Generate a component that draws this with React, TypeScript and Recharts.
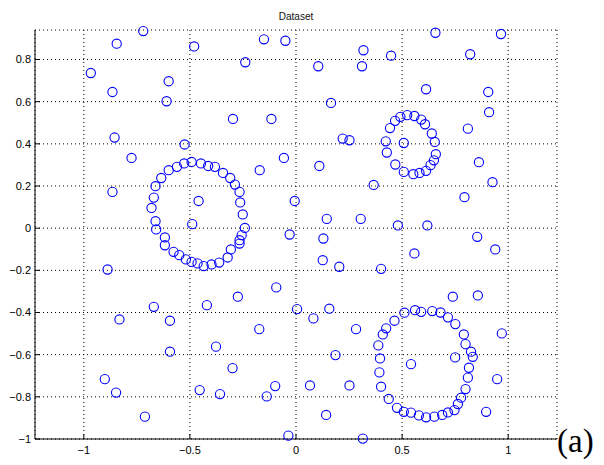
import {
  CartesianGrid,
  Scatter,
  ScatterChart,
  XAxis,
  YAxis,
} from 'recharts';

// scattered background points [x, y]
const noisePoints: [number, number][] = [
  [-0.72, 0.935], [-0.845, 0.875], [-0.48, 0.862], [-0.967, 0.736], [-0.6, 0.697],
  [-0.865, 0.646], [-0.61, 0.602], [-0.297, 0.518], [-0.116, 0.518], [-0.855, 0.43],
  [-0.525, 0.397], [-0.775, 0.333], [-0.057, 0.333], [-0.171, 0.275], [-0.865, 0.172],
  [-0.459, 0.129], [-0.006, 0.129], [-0.489, 0.019], [-0.03, -0.03], [-0.151, 0.896],
  [-0.05, 0.889], [-0.239, 0.787],
  [-0.888, -0.196], [-0.093, -0.281], [-0.274, -0.325], [-0.67, -0.373], [-0.42, -0.365],
  [0.005, -0.384], [-0.832, -0.433], [-0.594, -0.439], [-0.173, -0.479], [-0.377, -0.562],
  [-0.594, -0.586], [-0.299, -0.664], [-0.901, -0.716], [-0.848, -0.78], [-0.454, -0.768],
  [-0.358, -0.787], [-0.098, -0.749], [-0.138, -0.798], [-0.712, -0.894], [-0.036, -0.984],
  [0.657, 0.927], [0.966, 0.921], [0.318, 0.844], [0.448, 0.818], [0.821, 0.825],
  [0.105, 0.768], [0.311, 0.768], [0.613, 0.659], [0.906, 0.646], [0.165, 0.594],
  [0.91, 0.55], [0.81, 0.472], [0.22, 0.425], [0.252, 0.417], [0.11, 0.295],
  [0.862, 0.313], [0.926, 0.218], [0.366, 0.205], [0.794, 0.147], [0.145, 0.044],
  [0.305, 0.044], [0.48, 0.013], [0.619, 0.013], [0.129, -0.049], [0.854, -0.041],
  [0.508, 0.404],
  [0.939, -0.101], [0.558, -0.12], [0.126, -0.152], [0.204, -0.183], [0.401, -0.193],
  [0.739, -0.325], [0.857, -0.319], [0.157, -0.382], [0.082, -0.428], [0.283, -0.479],
  [0.97, -0.499], [0.186, -0.602], [0.542, -0.645], [0.75, -0.613], [0.948, -0.716],
  [0.066, -0.746], [0.252, -0.746], [0.142, -0.886], [0.896, -0.871], [0.315, -0.998],
];

// left ring
const ringLeft: [number, number][] = [
  [-0.492, 0.314], [-0.527, 0.307], [-0.561, 0.291], [-0.6, 0.275], [-0.635, 0.238],
  [-0.662, 0.199], [-0.67, 0.145], [-0.681, 0.096], [-0.662, 0.033], [-0.659, -0.006],
  [-0.618, -0.044], [-0.448, 0.307], [-0.414, 0.295], [-0.382, 0.291], [-0.344, 0.262],
  [-0.31, 0.238], [-0.288, 0.207], [-0.266, 0.172], [-0.263, 0.122], [-0.251, 0.065],
  [-0.241, 0.001], [-0.256, -0.033], [-0.266, -0.057], [-0.618, -0.081], [-0.577, -0.112],
  [-0.55, -0.128], [-0.519, -0.148], [-0.492, -0.16], [-0.464, -0.167], [-0.435, -0.18],
  [-0.398, -0.172], [-0.362, -0.163], [-0.322, -0.139], [-0.307, -0.101], [-0.266, -0.073],
];

// small upper-right ring
const ringSmall: [number, number][] = [
  [0.524, 0.536], [0.558, 0.532], [0.492, 0.528], [0.59, 0.515], [0.467, 0.509],
  [0.608, 0.493], [0.443, 0.475], [0.64, 0.449], [0.423, 0.412], [0.654, 0.409],
  [0.428, 0.359], [0.659, 0.351], [0.65, 0.322], [0.634, 0.299], [0.468, 0.302],
  [0.613, 0.272], [0.582, 0.262], [0.553, 0.256], [0.508, 0.267],
];

// lower-right ring
const ringLower: [number, number][] = [
  [0.511, -0.401], [0.561, -0.389], [0.59, -0.397], [0.642, -0.393], [0.681, -0.4],
  [0.716, -0.423], [0.751, -0.455], [0.464, -0.439], [0.425, -0.475], [0.409, -0.504],
  [0.388, -0.556], [0.396, -0.618], [0.393, -0.684], [0.401, -0.752], [0.437, -0.81],
  [0.476, -0.852], [0.508, -0.871], [0.542, -0.875], [0.579, -0.888], [0.613, -0.897],
  [0.652, -0.894], [0.689, -0.886], [0.716, -0.874], [0.747, -0.863], [0.763, -0.834],
  [0.778, -0.804], [0.799, -0.763], [0.81, -0.709], [0.815, -0.662], [0.833, -0.61],
  [0.825, -0.586], [0.799, -0.55], [0.791, -0.504],
];

const xTicks = [-1, -0.5, 0, 0.5, 1];
const yTicks = [-1, -0.8, -0.6, -0.4, -0.2, 0, 0.2, 0.4, 0.6, 0.8];

const toRows = (pts: [number, number][]) => pts.map(([x, y]) => ({ x, y }));
const data = [...toRows(noisePoints), ...toRows(ringLeft), ...toRows(ringSmall), ...toRows(ringLower)];

const fmt = (v: number) => String(v).replace('-', '\u2212');
const tickFont = { fontSize: 11, fill: '#000', fontFamily: 'Liberation Sans, Arial, sans-serif' };

const Ring = (props: any) => (
  <circle cx={props.cx} cy={props.cy} r={4.6} fill="none" stroke="#0000ff" strokeWidth={1.1} />
);

export default function App() {
  return (
    <div style={{ position: 'absolute', left: 0, top: 0, width: 604, height: 465, background: '#fff' }}>
      <div
        style={{
          position: 'absolute', left: 0, width: 592, top: 10, textAlign: 'center',
          fontFamily: 'Liberation Sans, Arial, sans-serif', fontSize: 10, lineHeight: '14px', color: '#111',
        }}
      >
        Dataset
      </div>
      <ScatterChart width={604} height={465} margin={{ top: 30, right: 47, bottom: 0, left: 0 }}>
        <CartesianGrid stroke="#000" strokeDasharray="1 3" />
        <XAxis
          type="number" dataKey="x" domain={[-1.23, 1.23]} ticks={xTicks} height={26}
          tickSize={-5} tickMargin={12} tick={tickFont} tickFormatter={fmt}
          stroke="#000" axisLine={{ stroke: '#000' }} tickLine={{ stroke: '#000' }}
        />
        <XAxis
          xAxisId="top" orientation="top" type="number" domain={[-1.23, 1.23]} ticks={xTicks}
          height={0} tickSize={-5} tick={false} axisLine={{ stroke: '#000' }} tickLine={{ stroke: '#000' }}
        />
        <YAxis
          type="number" dataKey="y" domain={[-1, 0.94]} ticks={yTicks} width={35}
          tickSize={-5} tickMargin={9} tick={tickFont} tickFormatter={fmt}
          axisLine={{ stroke: '#000' }} tickLine={{ stroke: '#000' }}
        />
        <YAxis
          yAxisId="right" orientation="right" type="number" domain={[-1, 0.94]} ticks={yTicks}
          width={0} tickSize={-5} tick={false} axisLine={{ stroke: '#000' }} tickLine={{ stroke: '#000' }}
        />
        <Scatter data={data} shape={Ring} isAnimationActive={false} />
      </ScatterChart>
      <div
        style={{
          position: 'absolute', left: 557, top: 421, fontFamily: 'Liberation Serif, serif',
          fontSize: 33, lineHeight: '40px', color: '#000',
        }}
      >
        (a)
      </div>
    </div>
  );
}
